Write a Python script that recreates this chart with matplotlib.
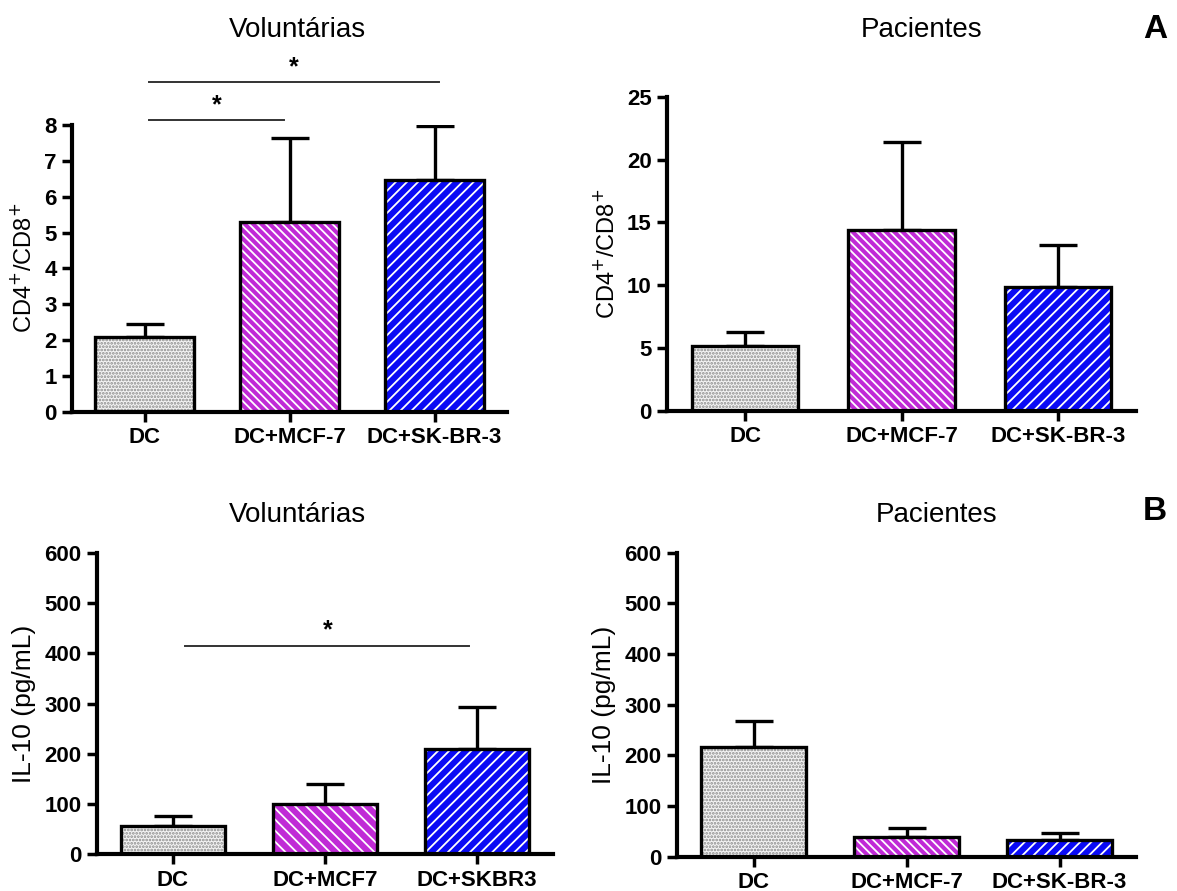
import matplotlib.pyplot as plt
import numpy as np

plt.rcParams['font.family'] = ['Liberation Sans', 'DejaVu Sans']
plt.rcParams['hatch.linewidth'] = 1.3

# data
groups_a = ['DC', 'DC+MCF-7', 'DC+SK-BR-3']
groups_b_vol = ['DC', 'DC+MCF7', 'DC+SKBR3']
groups_b_pac = ['DC', 'DC+MCF-7', 'DC+SK-BR-3']

ratio_vol = [2.09, 5.29, 6.47]
ratio_vol_err = [0.35, 2.36, 1.49]
ratio_pac = [5.17, 14.4, 9.84]
ratio_pac_err = [1.14, 7.0, 3.36]

il10_vol = [57, 100, 210]
il10_vol_err = [19, 40, 84]
il10_pac = [217, 38, 33]
il10_pac_err = [51, 19, 13]

faces = ['#f4f4f4', '#c02ad6', '#0a0af5']
hatch_cols = ['#8a8a8a', 'white', 'white']


def panel(ax, labels, vals, errs, ymax, ystep, ylabel, hatches, ylsize, width=0.68):
    x = np.arange(len(vals))
    for i in range(len(vals)):
        ax.bar(x[i], vals[i], width, color=faces[i], edgecolor=hatch_cols[i],
               hatch=hatches[i], linewidth=0, zorder=2)
    ax.bar(x, vals, width, fill=False, edgecolor='black', linewidth=2.4, zorder=3)
    ax.errorbar(x, vals, yerr=[np.zeros(len(vals)), errs], fmt='none',
                ecolor='black', elinewidth=2.4, capsize=14, capthick=2.4, zorder=1)
    ax.set_xlim(-0.5, 2.5)
    ax.set_ylim(0, ymax)
    ax.set_yticks(np.arange(0, ymax + 0.001, ystep))
    ax.set_xticks(x)
    ax.set_xticklabels(labels)
    for s in ['top', 'right']:
        ax.spines[s].set_visible(False)
    for s in ['left', 'bottom']:
        ax.spines[s].set_linewidth(3)
    ax.tick_params(width=2.5, length=7, labelsize=16, pad=4)
    for t in ax.get_xticklabels() + ax.get_yticklabels():
        t.set_fontweight('bold')
    ax.set_ylabel(ylabel, fontsize=ylsize, labelpad=6)
    ax.patch.set_alpha(0)


W, H = 1177, 891
fig = plt.figure(figsize=(W / 100, H / 100), dpi=100)


def add_axes(x0, x1, y0, y1):
    return fig.add_axes([x0 / W, (H - y0) / H, (x1 - x0) / W, (y0 - y1) / H])


ax1 = add_axes(72, 507, 411.7, 125)
ax2 = add_axes(667, 1136, 411, 96.7)
ax3 = add_axes(97, 553, 854.3, 552.7)
ax4 = add_axes(677, 1136, 856.7, 552.7)

cd_label = r'CD4$^{+}$/CD8$^{+}$'
panel(ax1, groups_a, ratio_vol, ratio_vol_err, 8, 1, cd_label,
      ['.....', '\\' * 4, '/' * 3], 17)
panel(ax2, groups_a, ratio_pac, ratio_pac_err, 25, 5, cd_label,
      ['.....', '\\' * 4, '/' * 3], 17)
panel(ax3, groups_b_vol, il10_vol, il10_vol_err, 600, 100, 'IL-10 (pg/mL)',
      ['.....', '\\' * 3, '/' * 3], 19)
panel(ax4, groups_b_pac, il10_pac, il10_pac_err, 600, 100, 'IL-10 (pg/mL)',
      ['.....', '\\' * 4, '/' * 3], 19)

# significance brackets
for ax, x0, x1, y, ys in [(ax1, 0.03, 0.96, 8.15, 8.22), (ax1, 0.03, 2.03, 9.2, 9.27),
                          (ax3, 0.08, 1.95, 415, 422)]:
    ax.plot([x0, x1], [y, y], color='#333333', lw=1.4, clip_on=False)
    ax.text((x0 + x1) / 2, ys, '*', ha='center', va='bottom', fontsize=18,
            fontweight='bold', clip_on=False)

fig.text(297 / W, 1 - 30 / H, 'Voluntárias', ha='center', va='center', fontsize=20)
fig.text(922 / W, 1 - 30 / H, 'Pacientes', ha='center', va='center', fontsize=20)
fig.text(297 / W, 1 - 515 / H, 'Voluntárias', ha='center', va='center', fontsize=20)
fig.text(937 / W, 1 - 515 / H, 'Pacientes', ha='center', va='center', fontsize=20)
fig.text(1155 / W, 1 - 30 / H, 'A', ha='center', va='center', fontsize=24, fontweight='bold')
fig.text(1155 / W, 1 - 512 / H, 'B', ha='center', va='center', fontsize=24, fontweight='bold')

fig.savefig('out.png', dpi=100, facecolor='white')
